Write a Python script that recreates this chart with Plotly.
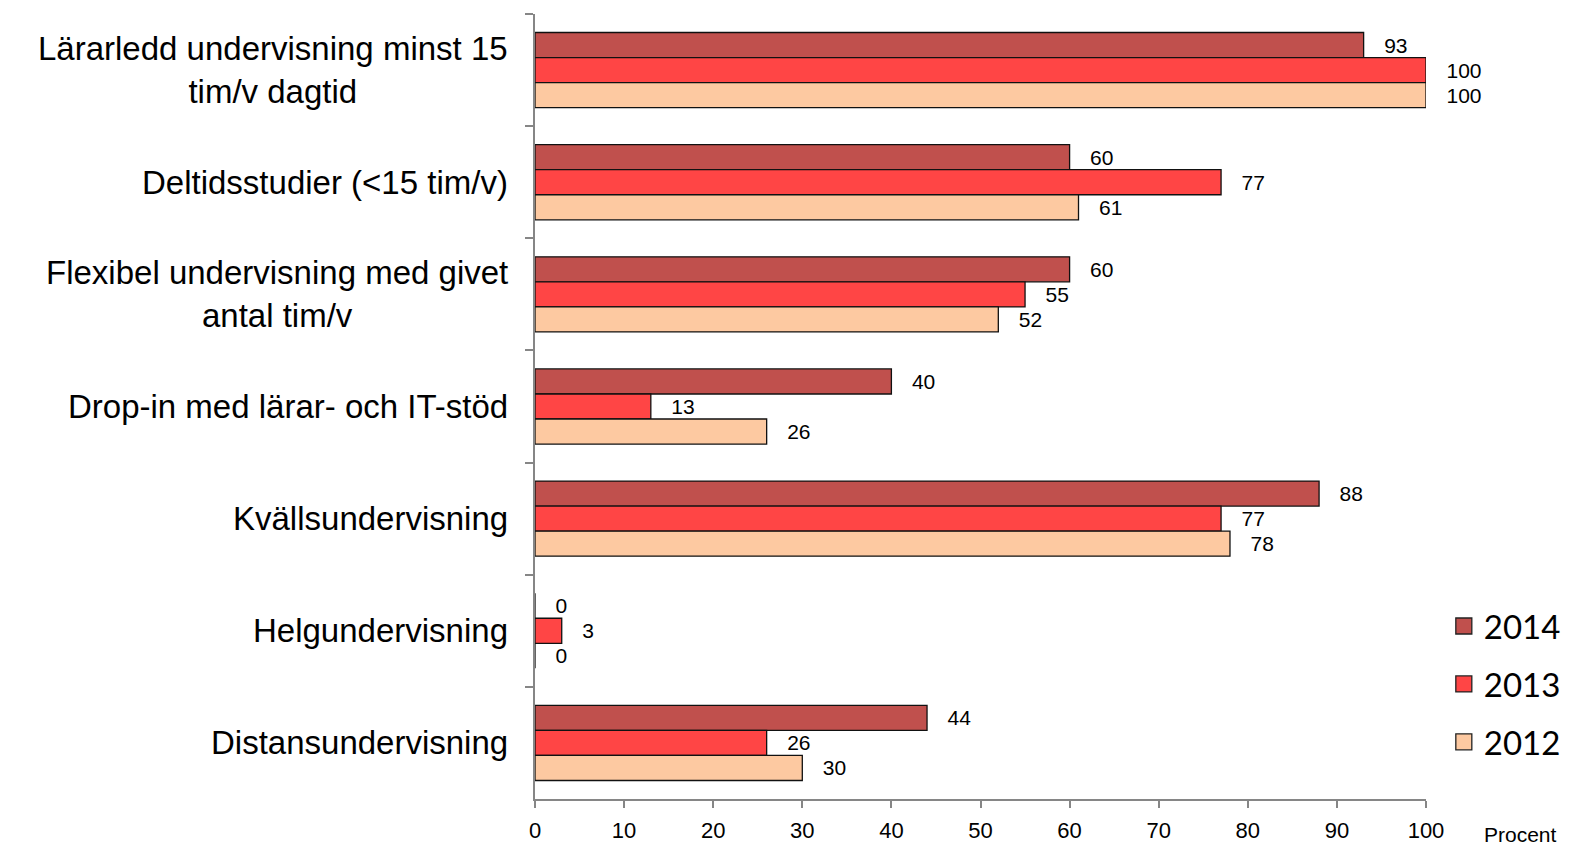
import plotly.graph_objects as go

categories = [
    "Lärarledd undervisning minst 15<br>tim/v dagtid",
    "Deltidsstudier (<15 tim/v)",
    "Flexibel undervisning med givet<br>antal tim/v",
    "Drop-in med lärar- och IT-stöd",
    "Kvällsundervisning",
    "Helgundervisning",
    "Distansundervisning",
]
years = ["2014", "2013", "2012"]
values_2014 = [93, 60, 60, 40, 88, 0, 44]
values_2013 = [100, 77, 55, 13, 77, 3, 26]
values_2012 = [100, 61, 52, 26, 78, 0, 30]
x_ticks = [0, 10, 20, 30, 40, 50, 60, 70, 80, 90, 100]

series = [values_2014, values_2013, values_2012]
colors = ["#C0504D", "#FF4545", "#FDC9A1"]

FONT = "Arial, Liberation Sans, sans-serif"

fig = go.Figure()
for yr, vals, col in zip(years, series, colors):
    fig.add_trace(go.Bar(
        y=categories, x=vals, orientation="h", name=yr,
        marker=dict(color=col, line=dict(color="#111111", width=1.3)),
        text=vals, texttemplate="\u00a0\u00a0\u00a0%{x}", textposition="outside",
        textfont=dict(family=FONT, size=21, color="#000000"),
        constraintext="none", cliponaxis=False, showlegend=False,
    ))
# legend entries
for i, (yr, col) in enumerate(zip(years, colors)):
    fig.add_trace(go.Scatter(
        x=[None], y=[None], mode="markers", name=yr, legendgroup=yr,
        marker=dict(symbol="square", size=16, color=col, line=dict(color="#222222", width=1.3)),
        showlegend=True,
    ))

for cat in categories:
    fig.add_annotation(
        x=0, xref="paper", y=cat, yref="y", xanchor="right", yanchor="middle",
        xshift=-25, text=cat, showarrow=False, align="center",
        font=dict(family=FONT, size=33, color="#000000"),
    )

fig.add_annotation(
    x=1.1066, xref="paper", y=-0.045, yref="paper", xanchor="center", yanchor="middle",
    text="Procent", showarrow=False, font=dict(family=FONT, size=21, color="#000000"),
)

fig.update_layout(
    width=1573, height=847,
    margin=dict(l=535, r=147, t=14, b=48, autoexpand=False),
    paper_bgcolor="white", plot_bgcolor="white",
    barmode="group", bargap=0.33, bargroupgap=0,
    showlegend=True,
    legend=dict(
        x=1.02, xanchor="left", y=0.256, yanchor="top",
        font=dict(family="Lato, sans-serif", size=33, color="#000000"),
        tracegroupgap=12, bgcolor="rgba(0,0,0,0)", itemsizing="trace",
    ),
    xaxis=dict(
        range=[0, 100], tickvals=x_ticks, ticktext=[str(v) for v in x_ticks],
        showgrid=False, zeroline=False, showline=True, linecolor="#868686", linewidth=1.5,
        ticks="outside", ticklen=7, tickcolor="#868686", tickwidth=1.5,
        ticklabelstandoff=4,
        tickfont=dict(family=FONT, size=22, color="#000000"),
    ),
    yaxis=dict(
        categoryorder="array", categoryarray=categories, autorange="reversed",
        showticklabels=False, showgrid=False, zeroline=False,
        showline=True, linecolor="#868686", linewidth=1.5,
        ticks="outside", ticklen=8, tickcolor="#868686", tickwidth=1.5,
        tickson="boundaries",
    ),
)

fig.write_html("out.html", config={"displayModeBar": False},
               post_script="document.body.style.margin='0px';")
